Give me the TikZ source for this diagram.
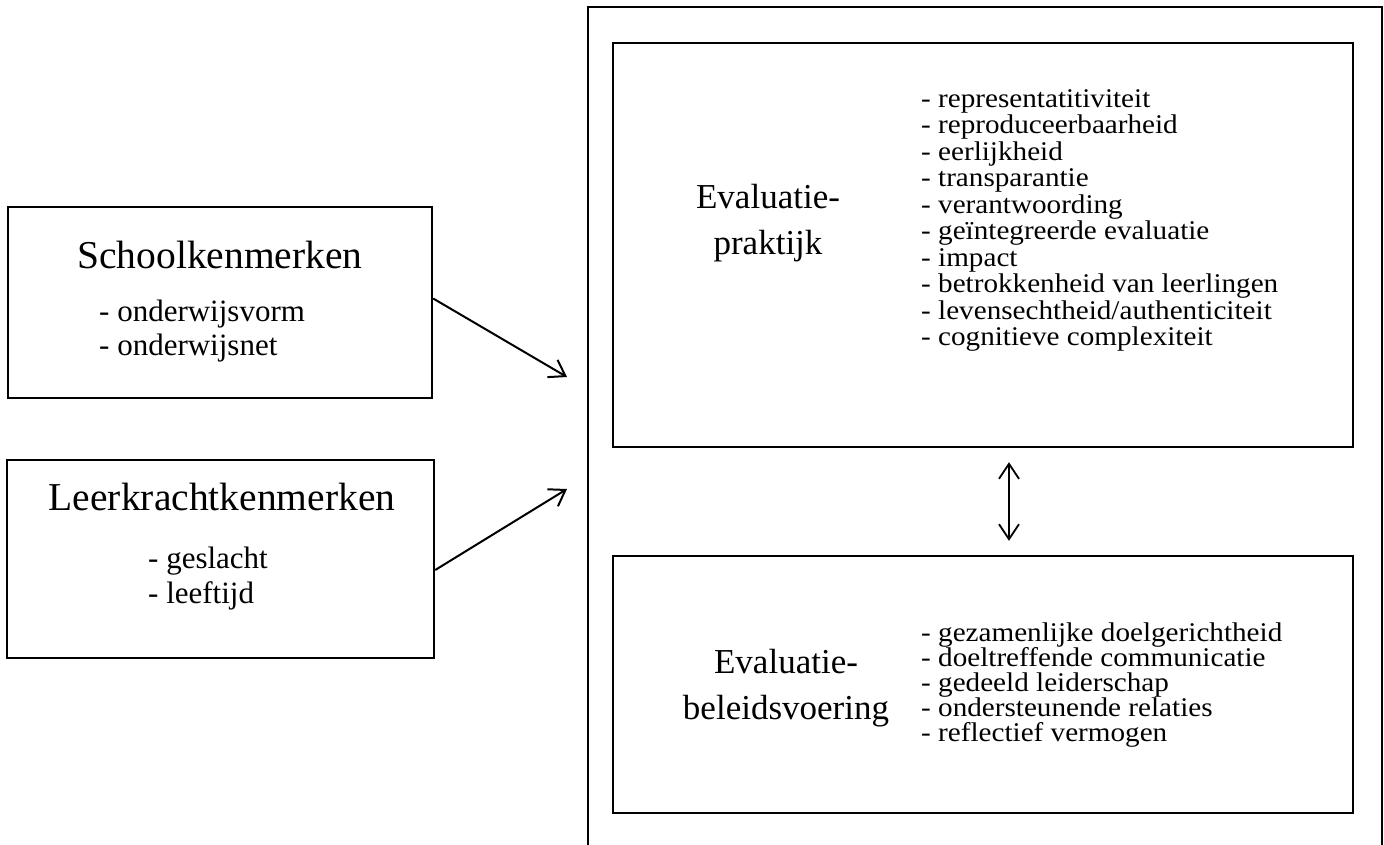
\documentclass[tikz,border=0pt]{standalone}
\usepackage{fontspec}
\setmainfont{Liberation Serif}
\newfontfamily\listfont[FakeStretch=1.08]{Liberation Serif}
\usetikzlibrary{arrows.meta}

\tikzset{
  frame/.style={draw, line width=2.4pt, rectangle, inner sep=0pt},
  titletext/.style={font=\fontsize{39.5}{46}\selectfont, anchor=base, inner sep=0pt},
  evaltitle/.style={font=\fontsize{35}{46}\selectfont, anchor=base, inner sep=0pt},
  sideitem/.style={font=\fontsize{31}{34.5}\selectfont, anchor=base west, inner sep=0pt},
  mainitem/.style={font=\listfont\fontsize{27}{25}\selectfont, anchor=base west, inner sep=0pt},
  influence/.style={line width=2pt, -{Straight Barb[length=15pt,width=20pt]}},
  exchange/.style={line width=1.8pt, {Straight Barb[length=15pt,width=20pt]}-{Straight Barb[length=15pt,width=20pt]}, shorten <=14pt, shorten >=14pt},
}

\begin{document}
\begin{tikzpicture}[x=1pt,y=-1pt]
\clip (0,0) rectangle (1384,844);
\fill [white] (0,0) rectangle (1384,844);

%outer frame, runs off the bottom
\draw [line width=2.4pt] (588,7) rectangle (1382,870);

%boxes
\node (school) [frame, minimum width=424pt, minimum height=191pt] at (220,302.5) {};
\node (leer) [frame, minimum width=427pt, minimum height=198pt] at (220.5,559) {};
\node (praktijk) [frame, minimum width=740pt, minimum height=404pt] at (983,245) {};
\node (beleid) [frame, minimum width=740pt, minimum height=257pt] at (983,684.5) {};

%left side
\node (schooltitle) [titletext] at (220,268) {Schoolkenmerken};
\node (schoolvorm) [sideitem] at (99,321) {- onderwijsvorm};
\node (schoolnet) [sideitem] at (99,355) {- onderwijsnet};
\node (leertitle) [titletext] at (222,510) {Leerkrachtkenmerken};
\node (leergeslacht) [sideitem] at (148,568) {- geslacht};
\node (leerleeftijd) [sideitem] at (148,603) {- leeftijd};

%evaluatiepraktijk
\node (praktijktitle) [evaltitle] at (768,208) {Evaluatie-};
\node (praktijktitlesub) [evaltitle] at (768,254) {praktijk};
\foreach \item [count=\i] in {representatitiviteit, reproduceerbaarheid, eerlijkheid,
  transparantie, verantwoording, geïntegreerde evaluatie, impact,
  betrokkenheid van leerlingen, levensechtheid/authenticiteit, cognitieve complexiteit}{
	\node (praktijkitem\i) [mainitem] at (921,80.5+26.5*\i) {- \item};
}

%evaluatiebeleidsvoering
\node (beleidtitle) [evaltitle] at (786,673) {Evaluatie-};
\node (beleidtitlesub) [evaltitle] at (786,719) {beleidsvoering};
\foreach \item [count=\i] in {gezamenlijke doelgerichtheid, doeltreffende communicatie,
  gedeeld leiderschap, ondersteunende relaties, reflectief vermogen}{
	\node (beleiditem\i) [mainitem] at (921,616+25*\i) {- \item};
}

%arrows
\coordinate (schooltip) at (567,377);
\coordinate (leertip) at (567,489);
\draw [influence] ([yshift=4pt]school.east) -- (schooltip);
\draw [influence] ([yshift=-11pt]leer.east) -- (leertip);
\draw [exchange] ([xshift=26pt]praktijk.south) -- ([xshift=26pt]beleid.north);
\end{tikzpicture}
\end{document}
